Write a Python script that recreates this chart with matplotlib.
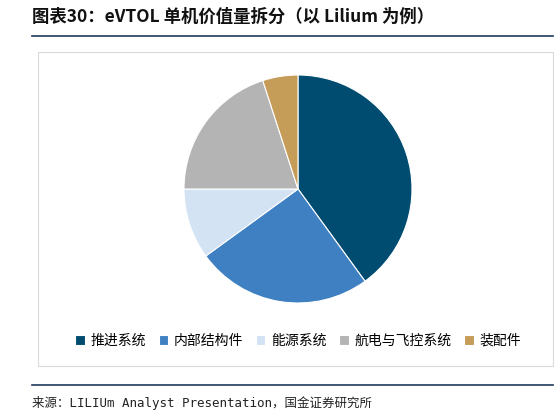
import matplotlib.pyplot as plt
from matplotlib.patches import Rectangle
from matplotlib.lines import Line2D

plt.rcParams['font.family'] = ['Noto Sans CJK SC', 'DejaVu Sans']

labels = ['推进系统', '内部结构件', '能源系统', '航电与飞控系统', '装配件']
values = [40, 25, 10, 20, 5]
colors = ['#004b70', '#3e80c2', '#d3e3f4', '#b4b4b4', '#c59c58']

W, H = 559, 417
fig = plt.figure(figsize=(W / 100, H / 100), dpi=100)

# title and rules
fig.text(32 / W, 1 - 17 / H, '图表30：eVTOL 单机价值量拆分（以 Lilium 为例）',
         fontsize=12.5, fontweight='bold', style='italic', va='center', color='#111111')
fig.add_artist(Line2D([32 / W, 553 / W], [1 - 36 / H] * 2, color='#1f3a5a', lw=1.2))
fig.add_artist(Line2D([32 / W, 553 / W], [1 - 385 / H] * 2, color='#1f3a5a', lw=1.2))
fig.text(32 / W, 1 - 403 / H, '来源：LILIUm Analyst Presentation，国金证券研究所',
         fontsize=9, va='center', color='#222222', family=['DejaVu Sans Mono', 'Noto Sans CJK SC'])

# chart box
fig.add_artist(Rectangle((38 / W, 1 - 366 / H), 515 / W, 314 / H, fill=False,
                         edgecolor='#d9d9d9', lw=0.8, transform=fig.transFigure))

ax = fig.add_axes([(298 - 114) / W, 1 - (189 + 114) / H, 228 / W, 228 / H])
wedges, _ = ax.pie(values, colors=colors, startangle=90, counterclock=False,
                   wedgeprops=dict(edgecolor='white', linewidth=0.8))
ax.set_xlim(-1, 1)
ax.set_ylim(-1, 1)
ax.set_aspect('equal')

fig.legend(wedges, labels, loc='center', bbox_to_anchor=(298 / W, 1 - 341 / H),
           ncol=5, frameon=False, fontsize=10, handlelength=0.7, handleheight=0.7,
           handletextpad=0.4, columnspacing=0.9)

fig.savefig('out.png', dpi=100)
